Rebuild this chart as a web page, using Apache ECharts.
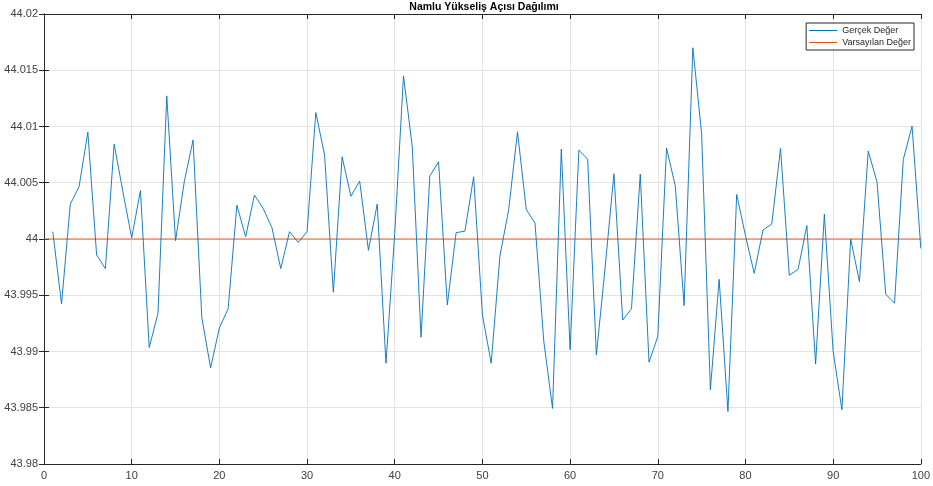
<!DOCTYPE html>
<html><head><meta charset="utf-8">
<script src="https://cdn.jsdelivr.net/npm/echarts@6/dist/echarts.min.js"></script>
<style>html,body{margin:0;padding:0;background:#fff}#c{width:933px;height:486px}</style>
</head><body><div id="c"></div>
<script>
const titleText = 'Namlu Yükseliş Açısı Dağılımı';
const seriesNames = ['Gerçek Değer', 'Varsayılan Değer'];
const actualValues = [
44.00065,43.99423,44.0031,44.00465,44.0095,43.99858,43.99737,44.00843,44.0042,44.0001,
44.0043,43.99035,43.9934,44.01272,43.99985,44.0051,44.0088,43.993,43.98855,43.9921,
43.9938,44.0030,44.0002,44.0039,44.0027,44.0010,43.99737,44.00065,43.9997,44.00065,
44.01124,44.00746,43.99527,44.0073,44.0038,44.00515,43.9990,44.0031,43.98896,44.0005,
44.0145,44.0082,43.99127,44.0056,44.00686,43.99414,44.00056,44.0007,44.00553,43.99325,
43.98896,43.9985,44.00263,44.00953,44.00263,44.0014,43.9909,43.98494,44.0080,43.99015,
44.0079,44.0071,43.9897,43.9975,44.0058,43.9928,43.9938,44.00577,43.98905,43.99133,
44.00808,44.0047,43.99408,44.0170,44.00938,43.9866,43.99642,43.98467,44.00396,44.0003,
43.99695,44.0008,44.00133,44.00805,43.99678,43.9973,44.0012,43.98888,44.0022,43.9900,
43.98482,44.0000,43.99621,44.00781,44.00509,43.99509,43.99429,44.00707,44.01003,43.99917];
const defaultValue = 44;
const defaultXRange = [0, 100];
const xTicks = {min: 0, max: 100, step: 10};
const yTicks = {min: 43.98, max: 44.02, step: 0.005};

const actualData = actualValues.map((v, i) => [i + 1, v]);
const defaultData = defaultXRange.map(x => [x, defaultValue]);

const chart = echarts.init(document.getElementById('c'), null, {renderer: 'canvas'});
const FONT = 'Liberation Sans, Arial, sans-serif';
const fmtY = v => String(parseFloat(v.toFixed(3)));
const axisLineStyle = {show: true, lineStyle: {color: '#262626', width: 1}};
const gridLine = {show: true, lineStyle: {color: '#e3e3e3', width: 1}};
const labelStyle = {color: '#404040', fontFamily: FONT, fontSize: 11};

chart.setOption({
  animation: false,
  backgroundColor: '#fff',
  title: {
    text: titleText, left: 484, top: 2, padding: 0, textAlign: 'center',
    textStyle: {fontFamily: FONT, fontSize: 10.5, fontWeight: 'bold', color: '#000'}
  },
  legend: {
    show: true,
    orient: 'vertical', right: 19, top: 23,
    backgroundColor: '#fff', borderColor: '#262626', borderWidth: 1, borderRadius: 0,
    padding: [3, 3, 3, 3], itemGap: 3, itemWidth: 28, itemHeight: 1,
    icon: 'rect',
    textStyle: {fontFamily: FONT, fontSize: 9, color: '#262626'},
    data: seriesNames
  },
  grid: {left: 44, right: 9, top: 14, bottom: 22, containLabel: false},
  xAxis: [{
    type: 'value', min: xTicks.min, max: xTicks.max, interval: xTicks.step,
    axisLine: axisLineStyle,
    axisTick: {show: true, inside: true, length: 5, lineStyle: {color: '#262626'}},
    axisLabel: Object.assign({margin: 6}, labelStyle),
    splitLine: gridLine
  }, {
    type: 'value', position: 'top', min: xTicks.min, max: xTicks.max, interval: xTicks.step,
    axisLine: axisLineStyle,
    axisTick: {show: true, inside: true, length: 5, lineStyle: {color: '#262626'}},
    axisLabel: {show: false}, splitLine: {show: false}
  }],
  yAxis: [{
    type: 'value', min: yTicks.min, max: yTicks.max, interval: yTicks.step,
    axisLine: axisLineStyle,
    axisTick: {show: true, inside: true, length: 5, lineStyle: {color: '#262626'}},
    axisLabel: Object.assign({margin: 6, formatter: fmtY}, labelStyle),
    splitLine: gridLine
  }, {
    type: 'value', position: 'right', min: yTicks.min, max: yTicks.max, interval: yTicks.step,
    axisLine: axisLineStyle,
    axisTick: {show: true, inside: true, length: 5, lineStyle: {color: '#262626'}},
    axisLabel: {show: false}, splitLine: {show: false}
  }],
  series: [{
    name: seriesNames[0], type: 'line', data: actualData,
    showSymbol: false, symbol: 'none', z: 3,
    lineStyle: {color: '#0072BD', width: 0.9}, itemStyle: {color: '#0072BD'}
  }, {
    name: seriesNames[1], type: 'line', data: defaultData,
    showSymbol: false, symbol: 'none', z: 2,
    lineStyle: {color: '#D95319', width: 0.9}, itemStyle: {color: '#D95319'}
  }]
});
</script></body></html>
